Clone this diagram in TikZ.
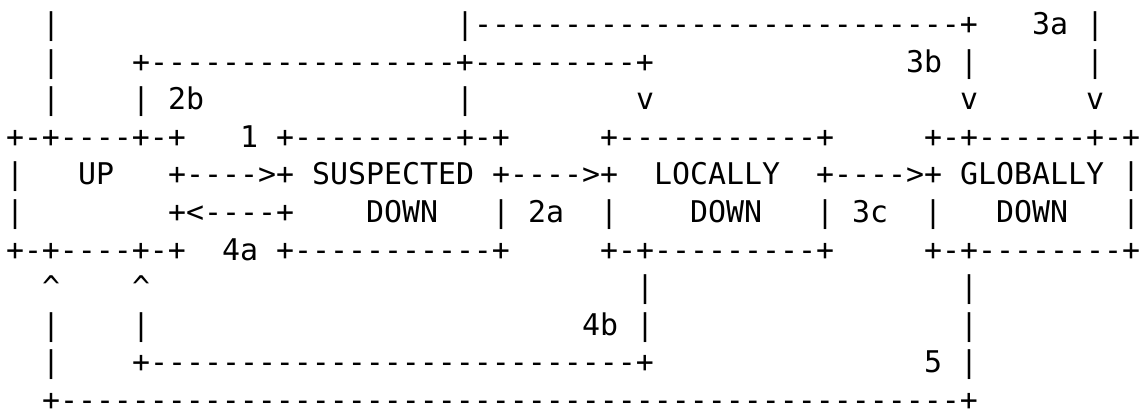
\documentclass[tikz,border=0pt]{standalone}
\usepackage{fontspec}
\setmonofont{DejaVu Sans Mono}
\ExplSyntaxOn
\NewDocumentCommand\dashrun{m}{\prg_replicate:nn{#1}{-}}
\ExplSyntaxOff
\tikzset{asc/.style={anchor=base west, inner sep=0pt, outer sep=0pt, text depth=0pt,
  font=\ttfamily\fontsize{29.9}{37.6}\selectfont, text=black}}
\newcommand\seg[4]{\node[asc] (#1) at ({6+18*#2},{34.5+37.6*#3}) {#4};}
\begin{document}
\begin{tikzpicture}[x=1pt,y=-1pt]
\fill[white] (0,0) rectangle (1141,411);
\useasboundingbox (0,0) rectangle (1141,411);
% row 0
\seg{a0}{2}{0}{|}
\seg{b0}{25}{0}{|\dashrun{27}+}
\seg{c0}{57}{0}{3a}
\seg{d0}{60}{0}{|}
% row 1
\seg{a1}{2}{1}{|}
\seg{b1}{7}{1}{+\dashrun{17}+\dashrun{9}+}
\seg{c1}{50}{1}{3b}
\seg{d1}{53}{1}{|}
\seg{e1}{60}{1}{|}
% row 2
\seg{a2}{2}{2}{|}
\seg{b2}{7}{2}{|}
\seg{c2}{9}{2}{2b}
\seg{d2}{25}{2}{|}
\seg{e2}{35}{2}{v}
\seg{f2}{53}{2}{v}
\seg{g2}{60}{2}{v}
% row 3
\seg{a3}{0}{3}{+-+\dashrun{4}+-+}
\seg{b3}{13}{3}{1}
\seg{c3}{15}{3}{+\dashrun{9}+-+}
\seg{d3}{33}{3}{+\dashrun{11}+}
\seg{e3}{51}{3}{+-+\dashrun{6}+-+}
% row 4
\seg{a4}{0}{4}{|}
\seg{up}{4}{4}{UP}
\seg{b4}{9}{4}{+\dashrun{4}>+}
\seg{susp}{17}{4}{SUSPECTED}
\seg{c4}{27}{4}{+\dashrun{4}>+}
\seg{loc}{36}{4}{LOCALLY}
\seg{d4}{45}{4}{+\dashrun{4}>+}
\seg{glob}{53}{4}{GLOBALLY}
\seg{e4}{62}{4}{|}
% row 5
\seg{a5}{0}{5}{|}
\seg{b5}{9}{5}{+<\dashrun{4}+}
\seg{sdown}{20}{5}{DOWN}
\seg{c5}{27}{5}{|}
\seg{l2a}{29}{5}{2a}
\seg{d5}{33}{5}{|}
\seg{ldown}{38}{5}{DOWN}
\seg{e5}{45}{5}{|}
\seg{l3c}{47}{5}{3c}
\seg{f5}{51}{5}{|}
\seg{gdown}{55}{5}{DOWN}
\seg{g5}{62}{5}{|}
% row 6
\seg{a6}{0}{6}{+-+\dashrun{4}+-+}
\seg{l4a}{12}{6}{4a}
\seg{b6}{15}{6}{+\dashrun{11}+}
\seg{c6}{33}{6}{+-+\dashrun{9}+}
\seg{d6}{51}{6}{+-+\dashrun{8}+}
% row 7
\seg{a7}{2}{7}{\textasciicircum}
\seg{b7}{7}{7}{\textasciicircum}
\seg{c7}{35}{7}{|}
\seg{d7}{53}{7}{|}
% row 8
\seg{a8}{2}{8}{|}
\seg{b8}{7}{8}{|}
\seg{l4b}{32}{8}{4b}
\seg{c8}{35}{8}{|}
\seg{d8}{53}{8}{|}
% row 9
\seg{a9}{2}{9}{|}
\seg{b9}{7}{9}{+\dashrun{27}+}
\seg{l5}{51}{9}{5}
\seg{c9}{53}{9}{|}
% row 10
\seg{a10}{2}{10}{+\dashrun{50}+}
\end{tikzpicture}
\end{document}
